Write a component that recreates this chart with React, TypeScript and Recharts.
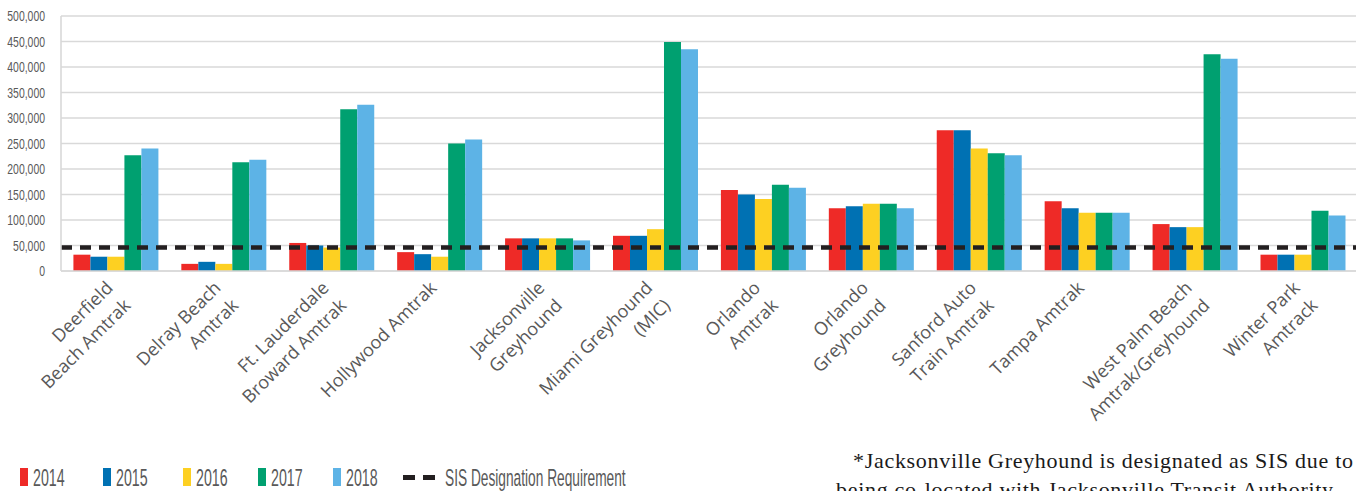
import React from "react";
import {
  ComposedChart,
  Bar,
  XAxis,
  YAxis,
  CartesianGrid,
  ReferenceLine,
} from "recharts";

const stations = [
  "Deerfield\nBeach Amtrak",
  "Delray Beach\nAmtrak",
  "Ft. Lauderdale\nBroward Amtrak",
  "Hollywood Amtrak",
  "Jacksonville\nGreyhound",
  "Miami Greyhound\n(MIC)",
  "Orlando\nAmtrak",
  "Orlando\nGreyhound",
  "Sanford Auto\nTrain Amtrak",
  "Tampa Amtrak",
  "West Palm Beach\nAmtrak/Greyhound",
  "Winter Park\nAmtrack",
];

const y2014 = [32000, 14000, 55000, 37000, 64000, 69000, 159000, 123000, 276000, 137000, 92000, 32000];
const y2015 = [28000, 18000, 50000, 33000, 64000, 69000, 150000, 127000, 276000, 123000, 86000, 32000];
const y2016 = [28000, 14000, 46000, 28000, 64000, 82000, 141000, 132000, 240000, 114000, 86000, 32000];
const y2017 = [227000, 213000, 317000, 250000, 64000, 449000, 169000, 132000, 231000, 114000, 425000, 118000];
const y2018 = [240000, 218000, 326000, 258000, 60000, 435000, 163000, 123000, 227000, 114000, 416000, 109000];

const sisRequirement = 46000;
const yTicks = [0, 50000, 100000, 150000, 200000, 250000, 300000, 350000, 400000, 450000, 500000];

const footnote = [
  "*Jacksonville Greyhound is designated as SIS due to",
  "being co-located with Jacksonville Transit Authority",
];

const SERIES = [
  { key: "y2014", label: "2014", color: "#EE2A27" },
  { key: "y2015", label: "2015", color: "#0071B3" },
  { key: "y2016", label: "2016", color: "#FDD022" },
  { key: "y2017", label: "2017", color: "#00A070" },
  { key: "y2018", label: "2018", color: "#5DB3E6" },
];

const data = stations.map((name, i) => ({
  name,
  y2014: y2014[i],
  y2015: y2015[i],
  y2016: y2016[i],
  y2017: y2017[i],
  y2018: y2018[i],
}));

const GRAY = "#595959";
const SANS = "'Liberation Sans', Arial, sans-serif";

const StationTick = (props: any) => {
  const { x, y, payload } = props;
  const lines = String(payload.value).split("\n");
  return (
    <g transform={`translate(${x - 1},${y + 10})`}>
      <text
        transform="rotate(-45)"
        textAnchor="end"
        fill={GRAY}
        fontSize={18}
        fontFamily="'Open Sans', sans-serif"
      >
        {lines.map((l, i) => (
          <tspan key={i} x={0} dy={i === 0 ? 0 : 25}>
            {l}
          </tspan>
        ))}
      </text>
    </g>
  );
};

const ValueTick = (props: any) => {
  const { x, y, payload } = props;
  return (
    <text
      transform={`translate(${x},${y}) scale(0.72,1)`}
      textAnchor="end"
      dy="0.36em"
      fill={GRAY}
      fontSize={14.5}
      fontFamily={SANS}
    >
      {Number(payload.value).toLocaleString("en-US")}
    </text>
  );
};

const legendX = [20, 103, 183, 258, 333];

const App: React.FC = () => {
  return (
    <div
      style={{
        position: "absolute",
        left: 0,
        top: 0,
        width: 1360,
        height: 491,
        overflow: "hidden",
        background: "#fff",
      }}
    >
      <ComposedChart
        width={1360}
        height={440}
        data={data}
        margin={{ top: 16, right: 4, left: 0, bottom: 0 }}
        barCategoryGap="11.5%"
        barGap={0}
      >
        <CartesianGrid vertical={false} stroke="#d9d9d9" strokeWidth={1.6} />
        <XAxis
          dataKey="name"
          interval={0}
          height={169}
          tickLine={false}
          axisLine={{ stroke: "#d9d9d9", strokeWidth: 1.6 }}
          tick={<StationTick />}
        />
        <YAxis
          width={61}
          domain={[0, 500000]}
          ticks={yTicks}
          tickLine={false}
          tickMargin={10}
          axisLine={{ stroke: "#d9d9d9", strokeWidth: 1.6 }}
          tick={<ValueTick />}
        />
        {SERIES.map((s) => (
          <Bar
            key={s.key}
            dataKey={s.key}
            fill={s.color}
            isAnimationActive={false}
          />
        ))}
        <ReferenceLine
          y={sisRequirement}
          stroke="#231f20"
          strokeWidth={4.5}
          strokeDasharray="11 8"
        />
      </ComposedChart>

      <svg
        width={1360}
        height={491}
        style={{ position: "absolute", left: 0, top: 0, pointerEvents: "none" }}
      >
        {SERIES.map((s, i) => (
          <g key={s.key}>
            <rect x={legendX[i]} y={468} width={8} height={18} fill={s.color} />
            <text
              transform={`translate(${legendX[i] + 13},486) scale(0.58,1)`}
              fill={GRAY}
              fontSize={24.5}
              fontFamily={SANS}
            >
              {s.label}
            </text>
          </g>
        ))}
        <rect x={403} y={475} width={12} height={5} fill="#231f20" />
        <rect x={423} y={475} width={12} height={5} fill="#231f20" />
        <text
          transform="translate(445,486) scale(0.56,1)"
          fill={GRAY}
          fontSize={24.5}
          fontFamily={SANS}
        >
          SIS Designation Requirement
        </text>

        <text
          x={853}
          y={468}
          fill="#1a1a1a"
          fontSize={22}
          letterSpacing={0.7}
          fontFamily="'Liberation Serif', serif"
        >
          {footnote[0]}
        </text>
        <text
          x={836}
          y={497}
          fill="#1a1a1a"
          fontSize={22}
          letterSpacing={0.7}
          fontFamily="'Liberation Serif', serif"
        >
          {footnote[1]}
        </text>
      </svg>
    </div>
  );
};

export default App;
